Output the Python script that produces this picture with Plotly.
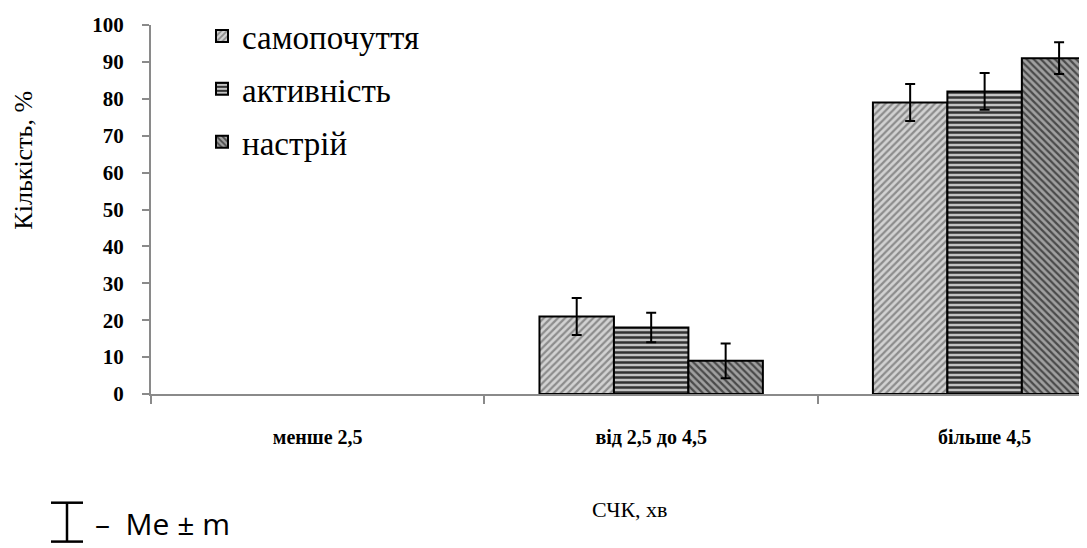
import plotly.graph_objects as go

categories = ["менше 2,5", "від 2,5 до 4,5", "більше 4,5"]
series_names = ["самопочуття", "активність", "настрій"]
samopochuttia = [0, 21, 79]
aktyvnist = [0, 18, 82]
nastrii = [0, 9, 91]
err_samopochuttia = [0, 5, 5]
err_aktyvnist = [0, 4, 5]
err_nastrii = [0, 4.7, 4.3]
y_ticks = list(range(0, 101, 10))

values = [samopochuttia, aktyvnist, nastrii]
errors = [err_samopochuttia, err_aktyvnist, err_nastrii]
patterns = [
    dict(shape="/", bgcolor="#d2d2d2", fgcolor="#8c8c8c", size=5, solidity=0.45, fillmode="replace"),
    dict(shape="-", bgcolor="#c4c4c4", fgcolor="#333333", size=5, solidity=0.5, fillmode="replace"),
    dict(shape="\\", bgcolor="#a0a0a0", fgcolor="#4a4a4a", size=5, solidity=0.45, fillmode="replace"),
]

SERIF = "Liberation Serif, Times New Roman, serif"

fig = go.Figure()
for i, name in enumerate(series_names):
    vals = values[i]
    # zero-height bars are not drawn in the reference
    shown = [v if v > 0 else None for v in vals]
    errs = [e if v > 0 else None for v, e in zip(vals, errors[i])]
    fig.add_trace(go.Bar(
        x=categories, y=shown, name=name,
        legendgroup=name,
        marker=dict(color=patterns[i]["bgcolor"], pattern=patterns[i],
                    line=dict(color="black", width=2)),
        error_y=dict(type="data", array=errs, visible=True,
                     color="black", thickness=2, width=5),
    ))

# page body has an 8px margin: the figure is drawn from (8, 8)
OFF = 8
W, H = 1087 - OFF, 548 - OFF
PL, PR, PT, PB = 151, 1087, 24, 394          # plot area in window pixels
ML, MT = PL - OFF, PT - OFF
MB = H - MT - (PB - PT)
plot_w = PR - PL
plot_h = PB - PT

def px(xp):
    return (xp - PL) / plot_w

def py(yp):
    return 1 - (yp - PT) / plot_h

fig.update_layout(
    width=W, height=H,
    margin=dict(l=ML, r=0, t=MT, b=MB, pad=0),
    paper_bgcolor="white", plot_bgcolor="white",
    barmode="group", bargap=0.33, bargroupgap=0,
    font=dict(family=SERIF, color="black"),
    showlegend=True,
    legend=dict(x=px(202), y=py(7), xanchor="left", yanchor="top",
                font=dict(family=SERIF, size=33, color="black"),
                tracegroupgap=7, itemwidth=30, bgcolor="rgba(0,0,0,0)"),
    xaxis=dict(
        type="category", range=[-0.5, 2.307], tickson="boundaries",
        ticks="outside", ticklen=8, tickwidth=2, tickcolor="#8a8a8a",
        showline=True, linecolor="#8a8a8a", linewidth=2,
        showgrid=False, zeroline=False,
        tickfont=dict(family=SERIF, size=20, color="black", weight="bold"),
        ticklabelstandoff=24,
    ),
    yaxis=dict(
        range=[0, 100], tickvals=y_ticks,
        ticks="outside", ticklen=7, tickwidth=2, tickcolor="#8a8a8a",
        showline=True, linecolor="#8a8a8a", linewidth=2,
        showgrid=False, zeroline=False,
        tickfont=dict(family=SERIF, size=21, color="black", weight="bold"),
        ticklabelstandoff=14,
    ),
    annotations=[
        dict(text="Кількість, %", xref="paper", yref="paper", x=px(24), y=py(160),
             xanchor="center", yanchor="middle", textangle=-90, showarrow=False,
             font=dict(family=SERIF, size=26, color="black")),
        dict(text="СЧК, хв", xref="paper", yref="paper", x=px(630), y=py(510),
             xanchor="center", yanchor="middle", showarrow=False,
             font=dict(family=SERIF, size=22, color="black")),
        dict(text="–  Me ± m", xref="paper", yref="paper", x=px(93), y=py(524),
             xanchor="left", yanchor="middle", showarrow=False,
             font=dict(family="Open Sans", size=30, color="black")),
    ],
    shapes=[
        dict(type="line", xref="paper", yref="paper", x0=px(67), x1=px(67), y0=py(503), y1=py(542),
             line=dict(color="black", width=2.5)),
        dict(type="line", xref="paper", yref="paper", x0=px(51), x1=px(83), y0=py(503), y1=py(503),
             line=dict(color="black", width=2.5)),
        dict(type="line", xref="paper", yref="paper", x0=px(51), x1=px(83), y0=py(542), y1=py(542),
             line=dict(color="black", width=2.5)),
    ],
)

fig.write_html("out.html")
